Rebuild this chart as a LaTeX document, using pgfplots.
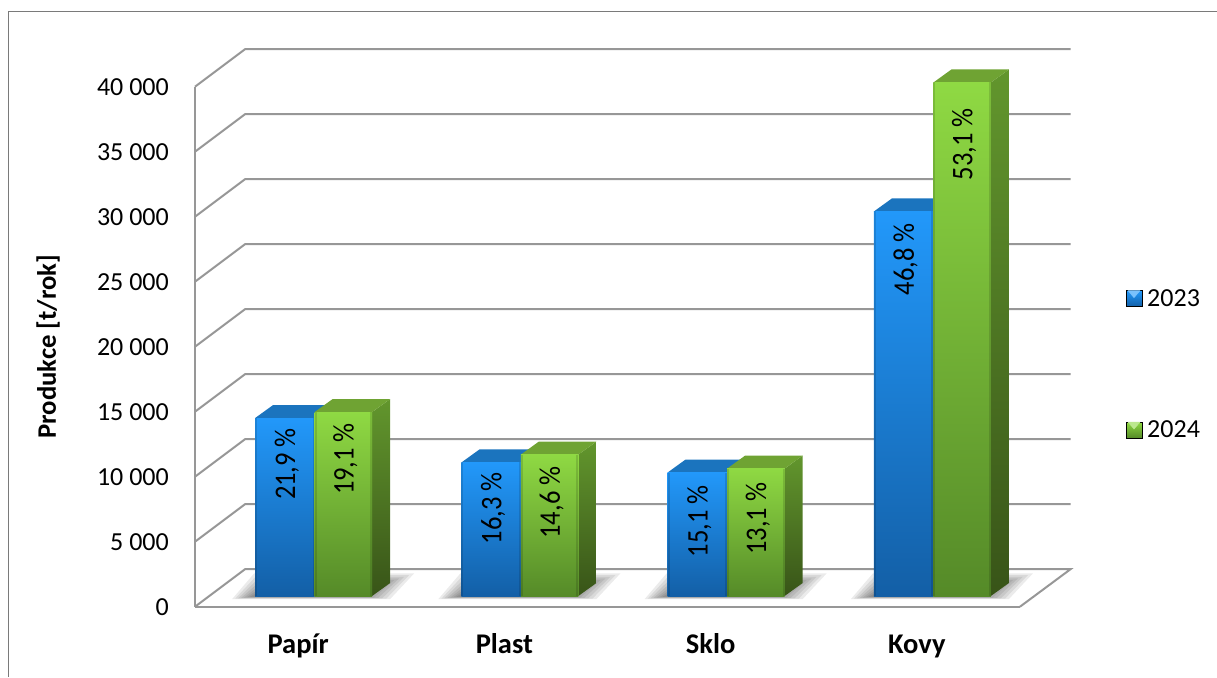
\documentclass[border=0pt]{standalone}
\usepackage{fontspec}
\setmainfont{Carlito}
\usepackage{pgfplots}
\pgfplotsset{compat=1.18}
\definecolor{wallgray}{HTML}{979797}
\definecolor{frameg}{HTML}{7A7A7A}
\definecolor{blueTop}{HTML}{2298FA}
\definecolor{blueBot}{HTML}{135FA6}
\definecolor{blueDepth}{HTML}{1B74BE}
\definecolor{blueSideT}{HTML}{1B6DB5}
\definecolor{blueSideB}{HTML}{0F4578}
\definecolor{greenTop}{HTML}{8FD943}
\definecolor{greenBot}{HTML}{558A28}
\definecolor{greenDepth}{HTML}{6FA333}
\definecolor{greenSideT}{HTML}{62962D}
\definecolor{greenSideB}{HTML}{385418}
\newcommand{\U}{206.25}
% category, left px offset, right px offset, value, colour prefix, label, label drop px
\newcommand{\threedbar}[7]{%
 \pgfmathsetmacro\xl{#1+(#2)/\U}%
 \pgfmathsetmacro\xr{#1+(#3)/\U}%
 \pgfmathsetmacro\xld{\xl+18/\U}%
 \pgfmathsetmacro\xrd{\xr+18/\U}%
 \pgfmathsetmacro\xc{(\xl+\xr)/2+2/\U}%
 \pgfmathsetmacro\xle{\xl+2/\U}%
 \pgfmathsetmacro\xre{\xr-2/\U}%
 \edef\yb{823}%
 \edef\ybd{1823}%
 \edef\yt{\the\numexpr 823+#4\relax}%
 \edef\ytd{\the\numexpr 1823+#4\relax}%
 \edef\ylab{\the\numexpr 823+#4-#7*1000/13\relax}%
 \addplot[draw=none,top color=#5SideT,bottom color=#5SideB,forget plot]
   coordinates {(\xr,\yt)(\xrd,\ytd)(\xrd,\ybd)(\xr,\yb)};
 \addplot[draw=none,fill=#5Depth,forget plot]
   coordinates {(\xl,\yt)(\xld,\ytd)(\xrd,\ytd)(\xr,\yt)};
 \addplot[draw=none,top color=#5Top,bottom color=#5Bot,forget plot]
   coordinates {(\xl,\yb)(\xr,\yb)(\xr,\yt)(\xl,\yt)};
 \addplot[draw=none,fill=black,fill opacity=0.13,forget plot]
   coordinates {(\xl,\yb)(\xle,\yb)(\xle,\yt)(\xl,\yt)};
 \addplot[draw=none,fill=black,fill opacity=0.13,forget plot]
   coordinates {(\xre,\yb)(\xr,\yb)(\xr,\yt)(\xre,\yt)};
 \addplot[draw=none,forget plot] coordinates {(\xc,\ylab)}
   node[rotate=90,anchor=center,text=black,font=\fontsize{26}{30}\selectfont,inner sep=0pt] {\scalebox{1.02}[1.15]{#6}};
}
% one layer of the blurred floor shadow: category, inset step
\newcommand{\shadowlayer}[2]{%
 \pgfmathsetmacro\sa{#1+(-66+3*#2)/\U}%
 \pgfmathsetmacro\sb{#1+(92-4*#2)/\U}%
 \pgfmathsetmacro\sc{#1+(116-5*#2)/\U}%
 \pgfmathsetmacro\sd{#1+(-44+3*#2)/\U}%
 \edef\sy{\the\numexpr 585+#2*30\relax}%
 \edef\st{\the\numexpr 2560-#2*130\relax}%
 \addplot[draw=none,fill=black,fill opacity=0.08,forget plot]
   coordinates {(\sa,\sy)(\sb,\sy)(\sc,\st)(\sd,\st)};
}
\newcommand{\floorshadow}[1]{%
 \shadowlayer{#1}{0}\shadowlayer{#1}{1}\shadowlayer{#1}{2}\shadowlayer{#1}{3}%
 \shadowlayer{#1}{4}\shadowlayer{#1}{5}\shadowlayer{#1}{6}\shadowlayer{#1}{7}%
}
\pgfplotsset{wall/.style={draw=wallgray,line width=2pt,forget plot}}
\begin{document}
\begin{tikzpicture}[x=1pt,y=1pt]
\path[use as bounding box] (0,0) rectangle (1217,677);
\draw[frameg,line width=1.1pt] (8.5,0)--(8.5,665.5)--(1217,665.5);
\begin{axis}[
  at={(195pt,70.3pt)},anchor=south west,
  scale only axis,width=825pt,height=520pt,
  xmin=-0.5,xmax=3.5,ymin=0,ymax=40000,
  clip=false,
  axis x line*=bottom,axis y line*=left,
  axis line style={draw=wallgray,line width=2pt,-},
  major tick length=0pt,
  xtick={0,1,2,3},xticklabels={Papír,Plast,Sklo,Kovy},
  ytick={0,5000,...,40000},
  scaled y ticks=false,
  /pgf/number format/.cd,1000 sep={\ },assume math mode=true,
  /pgfplots/.cd,
  yticklabel style={font=\fontsize{26}{30}\selectfont,inner sep=0pt,xshift=-26pt,anchor=east},
  xticklabel style={font=\bfseries\fontsize{28.5}{32}\selectfont,inner sep=0pt,anchor=base,yshift=-47pt},
  ylabel={Produkce [t/rok]},
  every axis y label/.style={at={(axis description cs:-0.178,0.5)},rotate=90,anchor=center,
     font=\bfseries\fontsize{26.7}{30}\selectfont},
  legend style={draw=none,fill=none,at={(1.128,0.466)},anchor=west,
    font=\fontsize{26}{30}\selectfont,row sep=109pt,inner sep=0pt,cells={anchor=west},
    /tikz/every odd column/.append style={column sep=3pt}},
]
% walls
\addplot[wall] coordinates {(-0.5,5000)(-0.2576,7885)(3.745,7885)};
\addplot[wall] coordinates {(-0.5,10000)(-0.2576,12885)(3.745,12885)};
\addplot[wall] coordinates {(-0.5,15000)(-0.2576,17885)(3.745,17885)};
\addplot[wall] coordinates {(-0.5,20000)(-0.2576,22885)(3.745,22885)};
\addplot[wall] coordinates {(-0.5,25000)(-0.2576,27885)(3.745,27885)};
\addplot[wall] coordinates {(-0.5,30000)(-0.2576,32885)(3.745,32885)};
\addplot[wall] coordinates {(-0.5,35000)(-0.2576,37885)(3.745,37885)};
\addplot[wall] coordinates {(-0.5,40000)(-0.2576,42885)(3.745,42885)};
\addplot[wall] coordinates {(-0.5,0)(-0.2576,2885)(3.745,2885)(3.5,0)};
\floorshadow{0}\floorshadow{1}\floorshadow{2}\floorshadow{3}
% bars
\threedbar{0}{-43}{16.6}{13690}{blue}{21,9 \%}{46}
\threedbar{0}{16.5}{74}{14150}{green}{19,1 \%}{47}
\threedbar{1}{-43}{16.6}{10270}{blue}{16,3 \%}{46}
\threedbar{1}{16.5}{74}{10880}{green}{14,6 \%}{48}
\threedbar{2}{-43}{16.6}{9500}{blue}{15,1 \%}{49}
\threedbar{2}{16.5}{74}{9800}{green}{13,1 \%}{50}
\threedbar{3}{-43}{16.6}{29580}{blue}{46,8 \%}{48}
\threedbar{3}{16.5}{74}{39500}{green}{53,1 \%}{62}
\addlegendimage{legend image code/.code={
   \shade[top color=blueTop,bottom color=blueBot] (0pt,-8pt) rectangle (16pt,8pt);
   \fill[blueTop!60!white] (2pt,8pt)--(14pt,8pt)--(8pt,1pt)--cycle;}}
\addlegendentry{2023}
\addlegendimage{legend image code/.code={
   \shade[top color=greenTop,bottom color=greenBot] (0pt,-8pt) rectangle (16pt,8pt);
   \fill[greenTop!60!white] (2pt,8pt)--(14pt,8pt)--(8pt,1pt)--cycle;}}
\addlegendentry{2024}
\end{axis}
\end{tikzpicture}
\end{document}
